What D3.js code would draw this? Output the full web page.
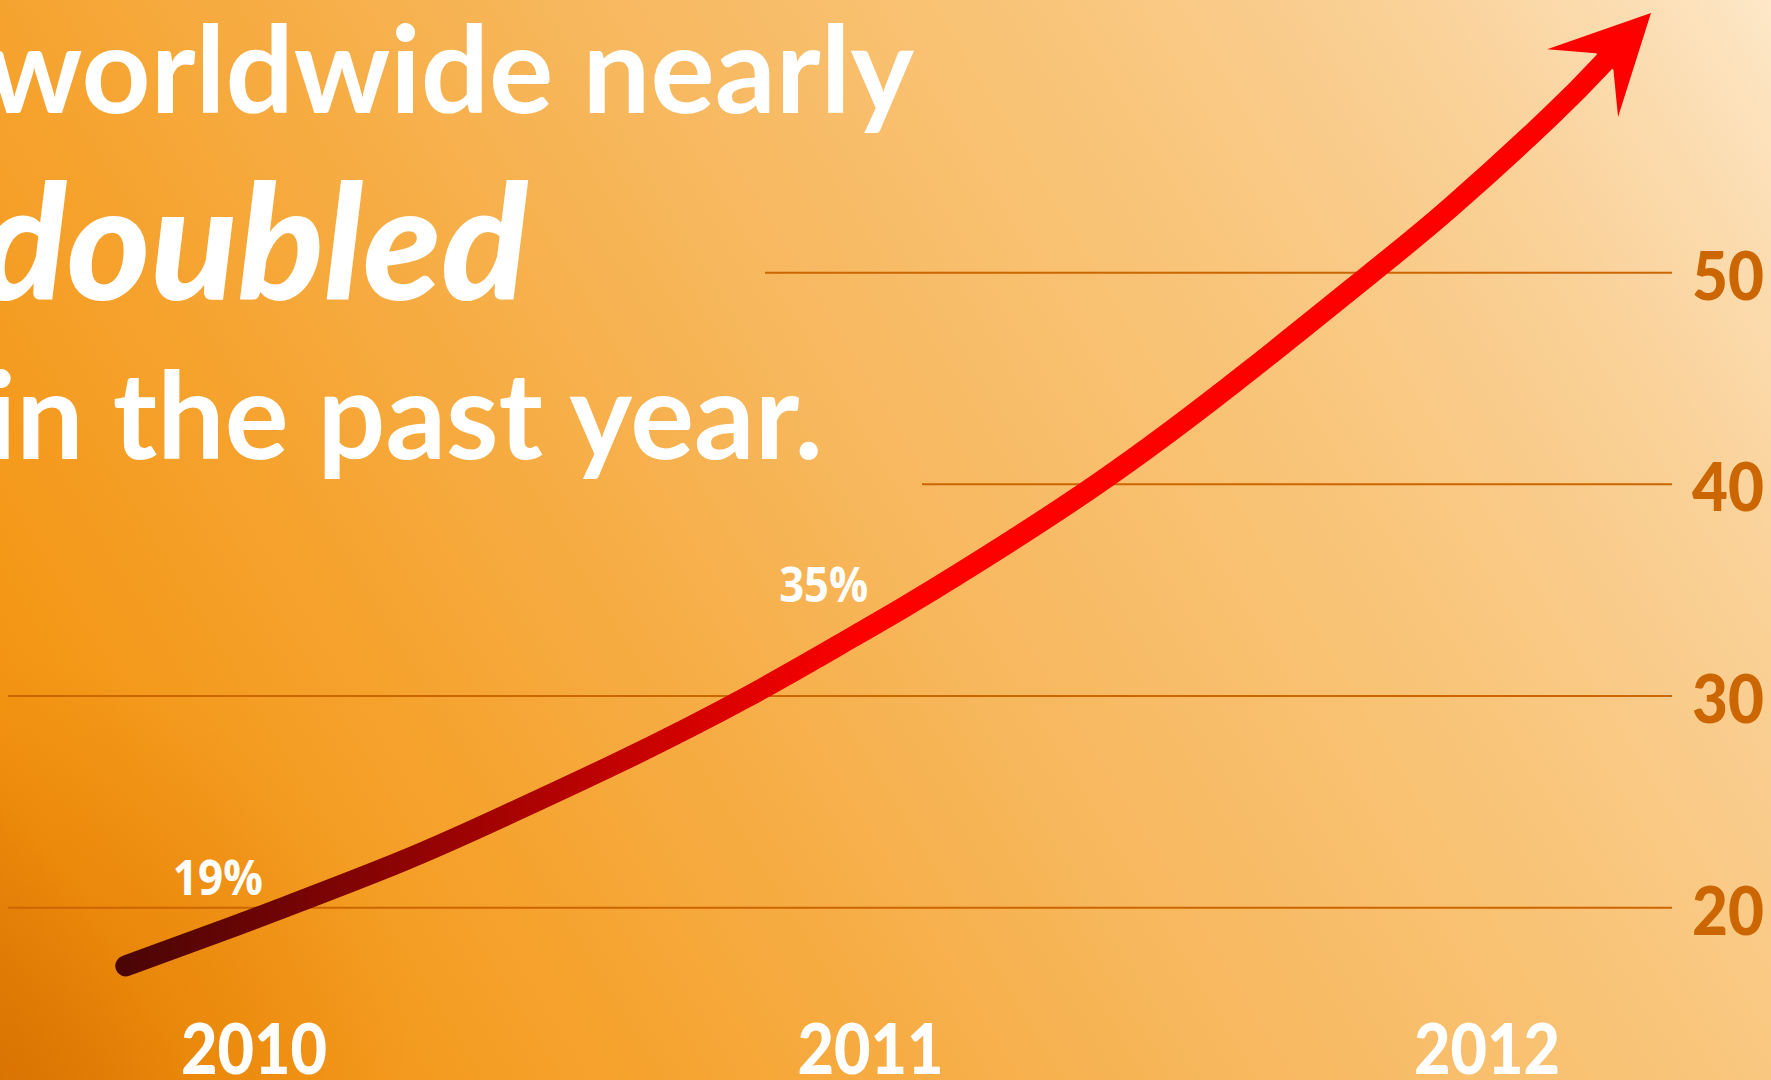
<!DOCTYPE html>
<html>
<head>
<meta charset="utf-8">
<script src="https://cdn.jsdelivr.net/npm/d3@7"></script>
<style>
  html, body { margin: 0; padding: 0; overflow: hidden; background: #f7b55a; }
  svg { display: block; }
</style>
</head>
<body>
<svg id="chart" width="1771" height="1080"></svg>
<script>
// Years along the bottom
const years = [2010, 2011, 2012];
// Share ticks on the right-hand scale
const shareTicks = [20, 30, 40, 50];
// Trend arrow path: position in years and share (%); the last entry is the arrow tip
const trendYears  = [2009.792, 2009.956, 2010.047, 2010.237, 2010.399, 2010.594, 2010.800, 2010.972,
                     2011.100, 2011.367, 2011.616, 2011.813, 2011.940, 2012.102, 2012.190, 2012.266];
const trendShares = [17.25, 19, 20.0, 22.16, 24.24, 26.90, 29.96, 32.80,
                     35, 40.0, 45.4, 50.0, 53.06, 57.36, 59.95, 62.27];
// Annotated points on the trend
const calloutYears  = [2009.956, 2011.100];
const calloutShares = [19, 35];
// Headline lines
const headline = ["worldwide nearly", "doubled", "in the past year."];

const W = 1771, H = 1080;
const svg = d3.select("#chart");

const x = d3.scaleLinear().domain([2010, 2012]).range([254, 1487]);
const y = d3.scaleLinear().domain([20, 50]).range([907.7, 272.7]);

const defs = svg.append("defs");

// Warm diagonal backdrop: deep orange bottom-left to cream top-right
const bg = defs.append("linearGradient").attr("id", "bg")
  .attr("gradientUnits", "userSpaceOnUse")
  .attr("x1", 0).attr("y1", H).attr("x2", W).attr("y2", 0);
[[0, "#e27a04"], [0.08, "#f3930f"], [0.3, "#f6a635"], [0.5, "#f7b75c"],
 [0.7, "#f9c57a"], [0.85, "#fad198"], [0.95, "#fcdfb6"], [1, "#fde8c8"]]
  .forEach(([o, c]) => bg.append("stop").attr("offset", o).attr("stop-color", c));

const corner = defs.append("radialGradient").attr("id", "corner")
  .attr("gradientUnits", "userSpaceOnUse")
  .attr("cx", 0).attr("cy", H).attr("r", 420);
corner.append("stop").attr("offset", 0).attr("stop-color", "#d46e00").attr("stop-opacity", 0.55);
corner.append("stop").attr("offset", 1).attr("stop-color", "#d46e00").attr("stop-opacity", 0);

svg.append("rect").attr("width", W).attr("height", H).attr("fill", "url(#bg)");
svg.append("rect").attr("width", W).attr("height", H).attr("fill", "url(#corner)");

// Gridlines (partly hidden behind the headline boxes on the left)
const gridStart = {20: 8, 30: 8, 40: 922, 50: 765};
const gridEnd = 1672;
svg.append("g").selectAll("line").data(shareTicks).join("line")
  .attr("x1", d => gridStart[d]).attr("x2", gridEnd)
  .attr("y1", d => y(d)).attr("y2", d => y(d))
  .attr("stroke", "#cc6600").attr("stroke-width", 2);

// Right-hand scale labels
svg.append("g").selectAll("text").data(shareTicks).join("text")
  .attr("x", 1692).attr("y", d => y(d) + 27)
  .attr("textLength", 72).attr("lengthAdjust", "spacingAndGlyphs")
  .attr("font-family", "Lato, 'Open Sans', sans-serif").attr("font-weight", 900)
  .attr("font-size", 67).attr("fill", "#cc6600")
  .text(d => d);

// Year labels
svg.append("g").selectAll("text").data(years).join("text")
  .attr("x", d => x(d)).attr("y", 1074)
  .attr("text-anchor", "middle")
  .attr("textLength", 146).attr("lengthAdjust", "spacingAndGlyphs")
  .attr("font-family", "Lato, 'Open Sans', sans-serif").attr("font-weight", 900)
  .attr("font-size", 70).attr("fill", "#ffffff")
  .text(d => d);

// Headline, bleeding off the left edge
const headLayout = [
  {x: -14, y: 113, size: 120, len: 928, italic: false, weight: 700},
  {x: -20, y: 300, size: 160, len: 548, italic: true, weight: 900},
  {x: -14, y: 459, size: 120, len: 837, italic: false, weight: 700}
];
svg.append("g").selectAll("text").data(headline).join("text")
  .attr("x", (d, i) => headLayout[i].x).attr("y", (d, i) => headLayout[i].y)
  .attr("textLength", (d, i) => headLayout[i].len).attr("lengthAdjust", "spacingAndGlyphs")
  .attr("font-family", "Lato, 'Open Sans', sans-serif")
  .attr("font-weight", (d, i) => headLayout[i].weight)
  .attr("font-style", (d, i) => headLayout[i].italic ? "italic" : "normal")
  .attr("font-size", (d, i) => headLayout[i].size).attr("fill", "#ffffff")
  .text(d => d);

// Trend arrow
const pts = trendYears.map((t, i) => [x(t), y(trendShares[i])]);
const shaft = pts.slice(0, -1);
const tip = pts[pts.length - 1];
const base = shaft[shaft.length - 1];

const trendGrad = defs.append("linearGradient").attr("id", "trendGrad")
  .attr("gradientUnits", "userSpaceOnUse")
  .attr("x1", shaft[0][0]).attr("y1", 0).attr("x2", x(2011.0)).attr("y2", 0);
trendGrad.append("stop").attr("offset", 0).attr("stop-color", "#4b0505");
trendGrad.append("stop").attr("offset", 1).attr("stop-color", "#ff0000");

// Natural spline: smooth, and passes through every point including the annotated ones
const line = d3.line().curve(d3.curveNatural);
svg.append("path")
  .attr("d", line(shaft))
  .attr("fill", "none")
  .attr("stroke", "url(#trendGrad)")
  .attr("stroke-width", 21)
  .attr("stroke-linecap", "round");

// Arrow head, oriented along the final stretch of the trend
const dx = tip[0] - base[0], dy = tip[1] - base[1];
const len = Math.hypot(dx, dy);
const u = [dx / len, dy / len], n = [-u[1], u[0]];
const at = (a, p) => [tip[0] + u[0] * a + n[0] * p, tip[1] + u[1] * a + n[1] * p];
const head = [tip, at(-98, -50), at(-67, -12), at(-67, 12), at(-98, 48)];
svg.append("path")
  .attr("d", "M" + head.map(p => p.join(",")).join("L") + "Z")
  .attr("fill", "#ff0000");

// Callouts
const calloutLayout = [
  {dx: -9, dy: -34, anchor: "middle", len: 90},
  {dx: -64, dy: 12, anchor: "end", len: 89}
];
svg.append("g").selectAll("text").data(calloutShares).join("text")
  .attr("x", (d, i) => x(calloutYears[i]) + calloutLayout[i].dx)
  .attr("y", (d, i) => y(d) + calloutLayout[i].dy)
  .attr("text-anchor", (d, i) => calloutLayout[i].anchor)
  .attr("textLength", (d, i) => calloutLayout[i].len).attr("lengthAdjust", "spacingAndGlyphs")
  .attr("font-family", "'Open Sans', 'Noto Sans', sans-serif").attr("font-weight", 700)
  .attr("font-size", 48).attr("fill", "#ffffff")
  .text(d => d + "%");
</script>
</body>
</html>
